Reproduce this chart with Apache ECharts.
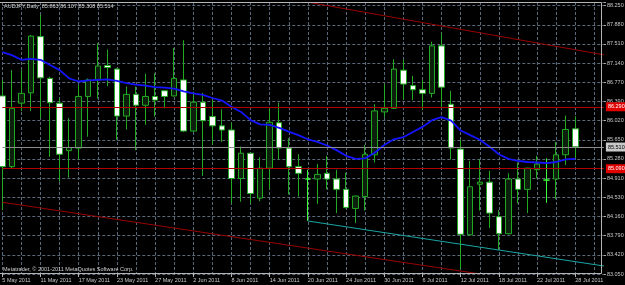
<!DOCTYPE html>
<html>
<head>
<meta charset="utf-8">
<title>AUDJPY,Daily</title>
<script src="https://cdn.jsdelivr.net/npm/echarts@6.0.0/dist/echarts.min.js"></script>
<style>
html,body{margin:0;padding:0;background:#000;}
#audjpy{width:625px;height:285px;}
</style>
</head>
<body>
<div id="audjpy"></div>
<script>
// 日线日期
var dates = ['5 May 2011','6 May 2011','9 May 2011','10 May 2011','11 May 2011','12 May 2011','13 May 2011',
    '16 May 2011','17 May 2011','18 May 2011','19 May 2011','20 May 2011','23 May 2011','24 May 2011',
    '25 May 2011','26 May 2011','27 May 2011','30 May 2011','31 May 2011','1 Jun 2011','2 Jun 2011',
    '3 Jun 2011','6 Jun 2011','7 Jun 2011','8 Jun 2011','9 Jun 2011','10 Jun 2011','13 Jun 2011',
    '14 Jun 2011','15 Jun 2011','16 Jun 2011','17 Jun 2011','20 Jun 2011','21 Jun 2011','22 Jun 2011',
    '23 Jun 2011','24 Jun 2011','27 Jun 2011','28 Jun 2011','29 Jun 2011','30 Jun 2011','1 Jul 2011',
    '4 Jul 2011','5 Jul 2011','6 Jul 2011','7 Jul 2011','8 Jul 2011','11 Jul 2011','12 Jul 2011',
    '13 Jul 2011','14 Jul 2011','15 Jul 2011','18 Jul 2011','19 Jul 2011','20 Jul 2011','21 Jul 2011',
    '22 Jul 2011','25 Jul 2011','26 Jul 2011','27 Jul 2011','28 Jul 2011'];
var futureBars = ['', ' ', '  '];

var opens  = [86.50,85.13,86.36,86.56,87.65,86.84,86.36,85.44,85.49,86.49,86.81,87.09,87.02,86.11,
    86.53,86.32,86.49,86.60,86.50,86.81,85.82,86.38,86.10,85.92,85.84,84.90,85.39,84.52,85.10,85.98,
    85.49,85.13,84.89,84.89,85.00,84.89,84.69,84.32,84.55,85.36,86.19,86.26,87.00,86.70,86.62,86.55,
    87.47,86.34,85.47,83.81,84.79,84.83,84.16,83.83,84.89,84.69,85.07,84.87,84.89,85.36,85.863];
var highs  = [86.81,87.00,87.00,87.68,88.07,86.87,86.45,86.07,86.71,86.84,87.52,87.40,87.04,86.68,
    86.68,86.93,86.94,86.61,87.43,87.58,86.58,86.56,86.42,86.24,85.98,85.52,85.40,85.31,86.25,86.37,
    85.68,85.37,85.07,85.18,85.34,85.07,85.01,84.57,85.55,86.34,86.73,87.21,87.20,86.89,86.81,87.55,
    87.71,86.60,85.65,85.24,85.27,85.05,84.29,85.00,85.21,85.11,85.34,85.29,85.61,86.12,86.107];
var lows   = [84.29,85.10,86.21,86.21,86.07,85.32,84.84,84.92,85.27,85.71,86.45,86.69,85.65,85.85,
    85.45,85.94,86.10,86.26,86.49,85.80,85.80,84.95,85.55,85.61,84.42,84.45,84.42,84.46,84.69,85.27,
    84.59,84.55,84.08,84.41,84.69,84.23,84.32,84.04,84.28,85.21,86.09,86.25,86.43,86.42,86.23,86.47,
    86.28,85.27,83.14,83.80,84.28,83.94,83.52,83.82,84.42,84.23,84.90,84.43,84.50,85.16,85.308];
var closes = [85.13,86.26,86.55,87.66,86.85,86.37,85.37,85.50,86.49,86.81,87.08,87.05,86.11,86.53,
    86.32,86.49,86.42,86.49,86.84,85.82,86.38,86.02,85.92,85.84,84.90,85.39,84.61,85.10,85.99,85.49,
    85.13,85.00,84.89,84.98,84.89,84.69,84.34,84.56,85.37,86.21,86.26,87.02,86.73,86.62,86.55,87.47,
    86.67,85.49,83.82,84.74,84.83,84.23,83.83,84.89,84.69,85.10,85.18,84.87,85.36,85.85,85.514];
// 均线
var ma = [87.35,87.29,87.20,87.22,87.20,87.10,87.00,86.84,86.78,86.80,86.81,86.82,86.79,86.75,
    86.72,86.70,86.67,86.66,86.64,86.59,86.55,86.52,86.46,86.41,86.29,86.19,86.03,85.95,85.94,85.88,
    85.81,85.74,85.66,85.61,85.54,85.45,85.34,85.28,85.29,85.40,85.55,85.66,85.70,85.80,85.90,86.03,
    86.09,86.02,85.83,85.74,85.65,85.52,85.37,85.28,85.24,85.22,85.21,85.20,85.22,85.27,85.28];

var yLabels = ['83.050','83.420','83.790','84.160','84.530','84.910','85.280','85.650',
    '86.020','86.390','86.770','87.140','87.510','87.880','88.250'];
var levels = [86.290, 85.093];
var bid = 85.514;
// 趋势线 [起点序号, 起点价, 终点序号, 终点价]
var upperTrend = [32, 88.317, 63, 87.296];
var lowerTrend = [0, 84.44, 50, 83.052];
var cyanTrend = [32, 84.077, 63, 83.205];

var yMin = parseFloat(yLabels[0]);
var yStep = (parseFloat(yLabels[yLabels.length - 1]) - yMin) / (yLabels.length - 1);
var font = 'Liberation Sans';
var last = dates.length - 1;

var kData = dates.map(function (d, i) {
    return [opens[i], closes[i], lows[i], highs[i]];
});

function trend(t, color) {
    return [
        { coord: [t[0], t[1]], lineStyle: { color: color, width: 1, type: 'solid' }, label: { show: false } },
        { coord: [t[2], t[3]] }
    ];
}
function level(v, lineColor, bg, fg) {
    return {
        yAxis: v,
        lineStyle: { color: lineColor, width: 1, type: 'solid' },
        label: { show: true, position: 'end', distance: 2, backgroundColor: bg, color: fg,
            padding: [2, 2, 1, 2], fontSize: 5.5, fontFamily: font,
            formatter: function (p) { return p.value.toFixed(3); } }
    };
}

var myChart = echarts.init(document.getElementById('audjpy'));
var option = {
    backgroundColor: '#000',
    animation: false,
    title: [
        {
            text: 'AUDJPY,Daily  ' + [opens[last], highs[last], lows[last], closes[last]].map(function (v) { return v.toFixed(3); }).join(' '),
            left: 4, top: 3, padding: 0,
            textStyle: { color: '#d8d8d8', fontSize: 5.5, fontWeight: 'normal', fontFamily: font }
        },
        {
            text: 'Metatrader, \u00a9 2001-2011 MetaQuotes Software Corp.',
            left: 3, top: 266, padding: 0,
            textStyle: { color: '#d0d0d0', fontSize: 5.5, fontWeight: 'normal', fontFamily: font }
        }
    ],
    grid: { left: 2.3, right: 21.1, top: 2, bottom: 11, outerBoundsMode: 'none' },
    graphic: [{
        type: 'rect', silent: true, z: 50,
        shape: { x: -1, y: 2.5, width: 602.5, height: 271 },
        style: { fill: 'transparent', stroke: '#b4b4b4', lineWidth: 1 }
    }],
    xAxis: {
        type: 'category',
        boundaryGap: false,
        data: dates.concat(futureBars),
        axisLine: { show: false },
        axisTick: { show: true, interval: 3, length: 3, lineStyle: { color: '#b4b4b4' } },
        axisLabel: { interval: 3, align: 'left', margin: 3, color: '#c8c8c8', fontSize: 5.5, fontFamily: font },
        splitLine: { show: true, interval: 1, lineStyle: { color: '#5b6a7a', type: [3, 2], width: 1 } }
    },
    yAxis: {
        type: 'value',
        position: 'right',
        min: yMin,
        max: 88.32,
        interval: yStep,
        axisLine: { show: false },
        axisTick: { show: true, length: 2, lineStyle: { color: '#b4b4b4' } },
        axisLabel: {
            margin: 3, color: '#c8c8c8', fontSize: 5.5, fontFamily: font,
            formatter: function (v, i) { return yLabels[i] || ''; }
        },
        splitLine: { show: true, lineStyle: { color: '#5b6a7a', type: [3, 2], width: 1 } }
    },
    series: [
        {
            name: 'AUDJPY',
            type: 'candlestick',
            data: kData,
            barWidth: 6,
            clip: false,
            itemStyle: {
                color: '#0d1f0d',
                color0: '#ffffff',
                borderColor: '#22aa22',
                borderColor0: '#22aa22',
                borderColorDoji: '#3cff3c',
                borderWidth: 1
            }
        },
        {
            name: 'MA',
            type: 'line',
            data: ma,
            symbol: 'none',
            z: 3,
            lineStyle: { color: '#1414ff', width: 1.8 },
            markLine: {
                silent: true,
                symbol: ['none', 'none'],
                animation: false,
                data: [
                    level(levels[0], '#b00000', '#e00000', '#ffffff'),
                    level(levels[1], '#b00000', '#e00000', '#ffffff'),
                    level(bid, '#8c8c8c', '#c8c8c8', '#000000'),
                    trend(upperTrend, '#9a0000'),
                    trend(lowerTrend, '#9a0000'),
                    trend(cyanTrend, '#1aa5a5')
                ]
            }
        }
    ]
};
myChart.setOption(option);
</script>
</body>
</html>
